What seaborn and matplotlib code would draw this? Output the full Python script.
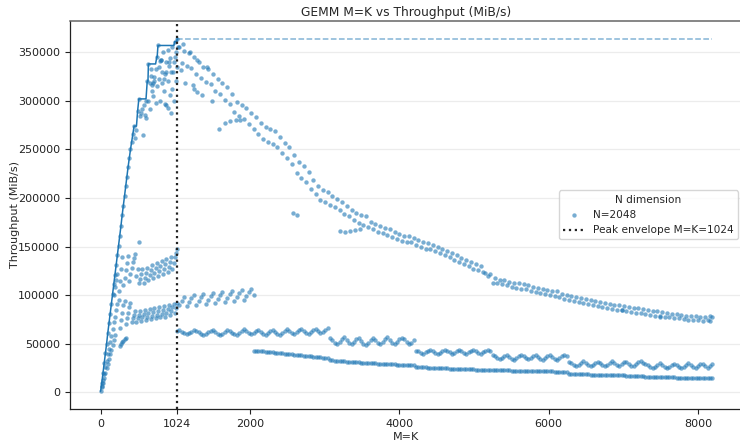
import numpy as np
import pandas as pd
import matplotlib
matplotlib.use("Agg")
import matplotlib.pyplot as plt
import seaborn as sns

# Throughput values are in thousands of MiB/s (kMiB/s); M=K sweep for N=2048.

# Best kernel, M=K up to 1024
main_lo_mk = np.arange(0, 1025, 16)
main_lo_k = [1, 10, 20, 30, 40, 50, 61, 71, 81, 91,
             101, 111, 121, 131, 141, 151, 161, 171, 182, 192,
             202, 212, 222, 232, 241, 250, 258, 266, 274, 262,
             270, 290, 302, 284, 288, 292, 296, 285, 300, 320,
             338, 318, 326, 310, 318, 325, 333, 345, 357, 335,
             341, 330, 350, 322, 328, 340, 352, 336, 344, 330,
             355, 340, 361, 350, 364]

# Best kernel, M=K above 1024
main_hi_mk = np.arange(1056, 8193, 32)
main_hi_k = [
    355, 339, 351, 336, 349, 334, 345, 328,
    340, 324, 335, 319, 333, 317, 328, 310,
    323, 307, 318, 301, 314, 297, 307, 289,
    299, 284, 296, 281, 293, 276, 288, 271,
    283, 266, 277, 261, 273, 258, 271, 256,
    269, 252, 263, 246, 257, 241, 253, 235,
    244, 226, 237, 221, 233, 216, 227, 209,
    219, 204, 212, 198, 208, 196, 206, 193,
    202, 191, 199, 188, 196, 184, 192, 181,
    188, 177, 185, 174, 183, 172, 181, 170,
    175, 168, 173, 165, 171, 164, 169, 162,
    168, 160, 165, 158, 163, 156, 161, 155,
    161, 155, 159, 152, 157, 150, 155, 148,
    154, 148, 152, 145, 150, 143, 147, 141,
    145, 139, 143, 136, 141, 134, 138, 132,
    136, 130, 134, 127, 132, 126, 130, 124,
    123, 120, 122, 113, 118, 112, 116, 111,
    116, 110, 114, 108, 113, 107, 112, 106,
    111, 106, 110, 104, 108, 103, 107, 102,
    106, 101, 105, 100, 104, 99, 104, 98,
    101, 96, 100, 95, 99, 94, 98, 93,
    97, 92, 96, 91, 95, 90, 94, 89,
    93, 88, 92, 87, 91, 86, 90, 85,
    90, 85, 89, 84, 88, 83, 87, 82,
    87, 82, 86, 81, 85, 80, 84, 79,
    84, 79, 83, 78, 82, 77, 81, 76,
    81, 76, 80, 75, 79, 74, 79, 74,
    79, 74, 78, 73, 78, 74, 79, 77,
]

# Extra repeated runs around the best curve
cloud_mk = [572, 603, 634, 665, 675, 706, 716, 736, 757, 777, 798, 808, 828, 849, 869,
            880, 900, 920, 936, 951, 971, 982, 997, 1012, 1022, 857, 900, 925, 694, 812,
            1040, 1072, 1104, 1136, 1200, 1248, 1296, 1360, 1424, 1488, 1232, 1296,
            1590, 1660, 1727, 1816, 1860, 2580, 2624, 3207, 3273, 3340, 3406, 3473,
            6980, 7490, 8160, 512]
cloud_k = [265, 282, 300, 292, 333, 305, 320, 298, 315, 322, 300, 342, 318, 310, 330,
           296, 320, 340, 287, 312, 330, 300, 345, 320, 335, 297, 293, 306, 316, 342,
           355, 332, 359, 318, 350, 312, 342, 306, 335, 300, 316, 309,
           271, 277, 279, 280, 280, 185, 182, 166, 165, 166, 167, 168,
           85, 77, 73, 155]

# Second kernel family, M=K up to 1024
band_b_mk = np.arange(176, 1025, 16)
band_b_k = [100, 108, 116, 122, 104, 115, 127, 139, 110, 118,
            126, 133, 140, 115, 122, 128, 134, 138, 142, 120,
            127, 112, 117, 122, 127, 113, 118, 123, 128, 116,
            121, 126, 131, 118, 123, 128, 133, 120, 125, 130,
            135, 122, 127, 132, 137, 124, 129, 134, 139, 127,
            133, 139, 143, 148]

# Third kernel family, M=K up to 1024
band_c_mk = np.arange(16, 1025, 16)
band_c_k = [6, 13, 19, 26, 32, 39, 45, 52, 58, 65,
            72, 78, 85, 91, 95, 66, 74, 82, 90, 94,
            70, 76, 82, 88, 92, 72, 76, 80, 84, 72,
            76, 80, 84, 73, 77, 81, 85, 74, 78, 82,
            86, 75, 79, 83, 87, 76, 80, 84, 88, 77,
            81, 85, 89, 78, 82, 86, 90, 80, 84, 88,
            91, 82, 87, 92]

# Small-size ramp of a fourth kernel
band_c2_mk = [16, 32, 48, 64, 80, 96, 112, 128, 144, 160, 176, 192,
              256, 272, 288, 304, 320, 336]
band_c2_k = [5, 10, 15, 20, 25, 29, 34, 39, 44, 49, 54, 59,
             48, 50, 52, 53, 55, 56]

# Third kernel family continued, 1024 < M=K <= 2048
band_d_mk = np.arange(1056, 2049, 32)
band_d_k = [90, 94, 98, 89, 93, 97, 100, 90, 94, 98, 101, 91, 95, 99, 102, 92,
            96, 100, 103, 93, 97, 101, 104, 94, 98, 102, 105, 95, 99, 103, 106, 100]

# Kernel family starting at 1024
band_e_mk = np.arange(1024, 8193, 32)
band_e_k = [
    # 1024 .. 3040
    63, 64, 62, 61, 60, 61, 62, 64,
    63, 62, 60, 59, 60, 62, 63, 64,
    62, 60, 59, 60, 62, 64, 63, 61,
    60, 59, 61, 63, 65, 63, 61, 60,
    61, 63, 64, 62, 60, 59, 61, 63,
    64, 62, 60, 59, 61, 63, 65, 63,
    61, 60, 62, 64, 65, 63, 61, 60,
    62, 64, 65, 63, 61, 62, 64, 66,
    # 3072 .. 4192
    56, 54, 51, 50, 52, 55, 57, 54,
    51, 50, 52, 55, 56, 53, 50, 49,
    51, 54, 56, 54, 51, 50, 52, 55,
    57, 54, 51, 50, 52, 55, 56, 55,
    52, 50, 51, 54,
    # 4224 .. 5216
    43, 42, 40, 39, 41, 43, 44, 42,
    40, 39, 40, 42, 44, 43, 41, 39,
    40, 42, 44, 42, 40, 39, 41, 43,
    44, 42, 40, 39, 41, 43, 44, 43,
    # 5248 .. 6240
    38, 37, 35, 34, 35, 37, 38, 36,
    34, 33, 35, 37, 38, 37, 35, 34,
    35, 37, 38, 36, 34, 33, 35, 37,
    38, 36, 34, 33, 35, 37, 38, 37,
    # 6272 .. 7264
    31, 30, 28, 27, 28, 30, 32, 30,
    28, 27, 28, 30, 31, 30, 28, 27,
    28, 30, 32, 30, 28, 27, 29, 31,
    31, 29, 27, 27, 29, 31, 32, 30,
    # 7296 .. 8192
    29, 28, 26, 25, 26, 28, 30, 28,
    26, 25, 26, 28, 29, 28, 26, 25,
    26, 28, 30, 28, 26, 25, 27, 29,
    29, 27, 25, 27, 29,
]

# Kernel family starting at 2048
band_f_mk = np.arange(2048, 8193, 32)
band_f_k = [
    # 2048 .. 3040
    43, 43, 42, 42, 42, 41, 41, 41,
    41, 40, 40, 40, 40, 39, 39, 39,
    39, 38, 38, 38, 38, 37, 37, 37,
    37, 36, 36, 36, 36, 35, 35, 35,
    # 3072 .. 4192
    33, 33, 32, 32, 32, 32, 32, 31,
    31, 31, 31, 31, 31, 30, 30, 30,
    30, 30, 30, 30, 29, 29, 29, 29,
    29, 29, 29, 29, 28, 28, 28, 28,
    28, 28, 28, 28,
    # 4224 .. 6240
    26, 26, 26, 26, 26, 25, 25, 25,
    25, 25, 25, 25, 25, 25, 24, 24,
    24, 24, 24, 24, 24, 24, 24, 24,
    24, 23, 23, 23, 23, 23, 23, 23,
    23, 23, 23, 23, 23, 23, 23, 23,
    22, 22, 22, 22, 22, 22, 22, 22,
    22, 22, 22, 22, 22, 22, 22, 22,
    22, 22, 21, 21, 21, 21, 21, 21,
    # 6272 .. 7264
    19, 19, 19, 19, 18.5, 18.5, 18.5, 18.5,
    18.5, 18, 18, 18, 18, 18, 18, 18,
    18, 17.5, 17.5, 17.5, 17.5, 17.5, 17.5, 17.5,
    17, 17, 17, 17, 17, 17, 17, 17,
    # 7296 .. 8192
    16, 16, 16, 16, 16, 16, 15.5, 15.5,
    15.5, 15.5, 15.5, 15.5, 15.5, 15, 15, 15,
    15, 15, 15, 15, 15, 15, 15, 14.5,
    14.5, 14.5, 14.5, 14.5, 14.5,
]

PEAK_MK = 1024

parts = [
    (main_lo_mk, main_lo_k), (main_hi_mk, main_hi_k), (cloud_mk, cloud_k),
    (band_b_mk, band_b_k), (band_c_mk, band_c_k), (band_c2_mk, band_c2_k),
    (band_d_mk, band_d_k), (band_e_mk, band_e_k), (band_f_mk, band_f_k),
]
df = pd.concat(
    [pd.DataFrame({"M=K": np.asarray(mk, dtype=float),
                   "Throughput (MiB/s)": np.asarray(tp, dtype=float) * 1000.0})
     for mk, tp in parts],
    ignore_index=True,
)

# Running maximum up to the peak size, and the peak value itself
upto = df[df["M=K"] <= PEAK_MK].groupby("M=K")["Throughput (MiB/s)"].max().cummax()
env = upto.reset_index()
peak_val = upto.iloc[-1]

sns.set_style("ticks")
plt.rcParams["font.family"] = ["DejaVu Sans"]

fig = plt.figure(figsize=(7.4, 4.4), dpi=100)
ax = fig.add_axes([70 / 740, 1 - 409 / 440, (743 - 70) / 740, (409 - 21) / 440])

ax.grid(axis="y", color="#ececec", linewidth=0.9, zorder=0)
ax.set_axisbelow(True)

sns.scatterplot(data=df, x="M=K", y="Throughput (MiB/s)", ax=ax, color="#1f77b4",
                s=10, alpha=0.6, linewidth=0, label="N=2048", zorder=3)
sns.lineplot(data=env, x="M=K", y="Throughput (MiB/s)", ax=ax, color="#1f77b4",
             linewidth=1.1, estimator=None, zorder=4, legend=False)
ax.plot([PEAK_MK, df["M=K"].max()], [peak_val, peak_val], color="#1f77b4",
        alpha=0.55, linestyle="--", linewidth=1.1, zorder=2)
ax.axvline(PEAK_MK, color="#222222", linestyle=":", linewidth=1.6, zorder=5,
           label="Peak envelope M=K=1024")

ax.set_xlim(-410, 8602)
ax.set_ylim(-17200, 382200)
ax.set_xticks([0, 1024, 2000, 4000, 6000, 8000])
ax.set_yticks(np.arange(0, 350001, 50000))
ax.tick_params(labelsize=8, length=3.5, width=0.8, colors="#222222")
ax.set_xlabel("M=K", fontsize=8, labelpad=2)
ax.set_ylabel("Throughput (MiB/s)", fontsize=8, labelpad=-1)
ax.set_title("GEMM M=K vs Throughput (MiB/s)", fontsize=8.8, pad=3.5)

for side in ("left", "bottom"):
    ax.spines[side].set_color("#222222")
    ax.spines[side].set_linewidth(0.9)
ax.spines["top"].set_color("#666666")
ax.spines["top"].set_linewidth(1.1)

leg = ax.legend(title="N dimension", loc="center right", fontsize=7.6,
                title_fontsize=7.6, frameon=True, markerscale=1.0)
leg.get_frame().set_edgecolor("#cccccc")

fig.savefig("out.png", dpi=100)
